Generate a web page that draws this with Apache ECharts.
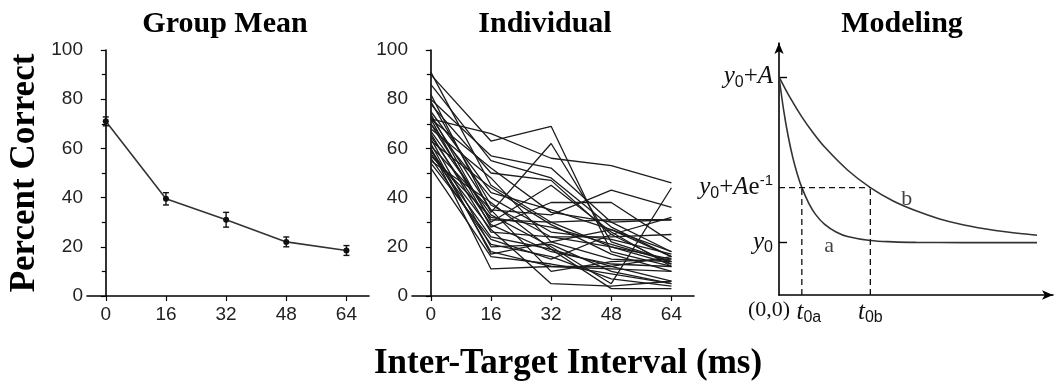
<!DOCTYPE html>
<html>
<head>
<meta charset="utf-8">
<script src="https://cdn.jsdelivr.net/npm/echarts@6/dist/echarts.min.js"></script>
<style>
html,body{margin:0;padding:0;background:#fff;}
#chart{width:1054px;height:383px;}
</style>
</head>
<body>
<div id="chart"></div>
<script>
// ---------- data ----------
var intervals = [0, 16, 32, 48, 64];
var yTicks = [0, 20, 40, 60, 80, 100];

var groupMean = [71, 39.5, 31, 22, 18.5];
var groupSE = [1.8, 2.5, 3, 2, 2];

var individual = [
  [90, 63, 69, 18, 12],
  [91, 45, 30, 20, 15],
  [86, 55, 48, 28, 16],
  [82, 34, 62, 22, 14],
  [80, 57, 52, 30, 18],
  [78, 50, 47, 25, 13],
  [72, 66, 56, 53, 46],
  [75, 42, 35, 27, 16],
  [74, 30, 45, 26, 12],
  [73, 35, 33, 43, 36],
  [72, 28, 38, 38, 22],
  [72, 52, 34, 30, 31],
  [70, 40, 26, 23, 17],
  [70, 31, 30, 31, 31],
  [68, 48, 22, 15, 14],
  [67, 33, 20, 5, 44],
  [66, 26, 24, 24, 25],
  [65, 29, 18, 13, 12],
  [64, 20, 21, 10, 5],
  [62, 17, 22, 27, 18],
  [61, 35, 10, 14, 15],
  [60, 18, 12, 11, 10],
  [60, 11, 12, 12, 6],
  [59, 27, 5, 4, 6],
  [58, 24, 19, 3, 3],
  [57, 32, 28, 21, 14],
  [56, 21, 16, 7, 4],
  [55, 38, 19, 12, 16],
  [54, 23, 15, 25, 32],
  [52, 16, 13, 9, 5],
  [63, 44, 29, 17, 10],
  [79, 37, 24, 20, 13]
];

// Modeling panel (schematic curves)
var curveAx = [0, 2, 4, 6, 8, 10, 13, 16, 20, 25, 30, 40, 50, 60, 80, 113];
var curveAy = [86.6, 73.6, 63.1, 54.7, 48.0, 42.6, 36.5, 32.0, 28.0, 25.0, 23.2, 21.6, 21.1, 20.9, 20.8, 20.8];
var curveBx = [0, 5, 10, 15, 20, 30, 40, 50, 60, 70, 80, 90, 100, 113];
var curveBy = [86.6, 78.1, 70.7, 64.3, 58.7, 49.6, 42.6, 37.3, 33.4, 30.3, 28.0, 26.3, 25.0, 23.7];
var modelY0 = 20.8;
var modelYA = 86.6;
var modelYTau = 42.6;
var modelT0a = 10;
var modelT0b = 40;
var modelYTickValues = [20.8, 42.6, 86.6];
var modelYTickLabels = ['{i|y}{s|0}', '{i|y}{s|0}{n|+}{i|A}{n|e}{sup|-1}', '{i|y}{s|0}{n|+}{i|A}'];
var modelXTickValues = [0, 10, 40];
var modelXTickLabels = ['{o|(0,0)}', '{ia|t}{s|0a}', '{i|t}{s|0b}'];
var curveLabels = [{x: 22, y: 19.5, text: 'a'}, {x: 56, y: 38, text: 'b'}];

// ---------- chart ----------
var chart = echarts.init(document.getElementById('chart'), null, {renderer: 'canvas'});

var tickFont = {fontFamily: 'Liberation Sans, Arial, sans-serif', fontSize: 19, color: '#222'};
var axisLineStyle = {color: '#000', width: 1.6};

function dataAxisX(idx) {
  return {
    type: 'value', gridIndex: idx, min: -5, max: 70,
    axisLine: {show: true, onZero: false, lineStyle: axisLineStyle},
    axisTick: {show: true, length: 5, customValues: intervals, lineStyle: {color: '#000', width: 1.2}},
    axisLabel: Object.assign({customValues: intervals, margin: 9}, tickFont),
    splitLine: {show: false}
  };
}
function dataAxisY(idx) {
  return {
    type: 'value', gridIndex: idx, min: 0, max: 100, interval: 20,
    axisLine: {show: true, lineStyle: axisLineStyle},
    axisTick: {show: true, length: 5, lineStyle: {color: '#000', width: 1.2}},
    minorTick: {show: true, splitNumber: 2, length: 4, lineStyle: {color: '#000', width: 1.2}},
    axisLabel: Object.assign({margin: 4, formatter: function (v) { return yTicks.indexOf(v) >= 0 ? String(v) : ''; }}, tickFont),
    splitLine: {show: false}
  };
}

var richMath = {
  i: {fontFamily: 'Liberation Serif, serif', fontStyle: 'italic', fontSize: 25, color: '#111'},
  ia: {fontFamily: 'Liberation Serif, serif', fontStyle: 'italic', fontSize: 25, color: '#111', padding: [0, 0, 0, 14]},
  n: {fontFamily: 'Liberation Serif, serif', fontSize: 25, color: '#111'},
  s: {fontFamily: 'Liberation Sans, sans-serif', fontSize: 16, color: '#111', padding: [11, 0, 0, 0]},
  sup: {fontFamily: 'Liberation Sans, sans-serif', fontSize: 15, color: '#111', padding: [0, 0, 13, 0]},
  o: {fontFamily: 'Liberation Serif, serif', fontSize: 22, color: '#111', padding: [0, 20, 0, 0]}
};

var series = [];

// Group mean line
series.push({
  type: 'line', xAxisIndex: 0, yAxisIndex: 0,
  data: intervals.map(function (x, i) { return [x, groupMean[i]]; }),
  symbol: 'circle', symbolSize: 6,
  itemStyle: {color: '#111'},
  lineStyle: {color: '#333', width: 1.6},
  z: 3
});
// Error bars
series.push({
  type: 'custom', xAxisIndex: 0, yAxisIndex: 0,
  data: intervals.map(function (x, i) { return [x, groupMean[i] - groupSE[i], groupMean[i] + groupSE[i]]; }),
  renderItem: function (params, api) {
    var lo = api.coord([api.value(0), api.value(1)]);
    var hi = api.coord([api.value(0), api.value(2)]);
    var w = 3;
    var st = {stroke: '#111', lineWidth: 1.4};
    return {type: 'group', children: [
      {type: 'line', shape: {x1: lo[0], y1: lo[1], x2: hi[0], y2: hi[1]}, style: st},
      {type: 'line', shape: {x1: lo[0] - w, y1: lo[1], x2: lo[0] + w, y2: lo[1]}, style: st},
      {type: 'line', shape: {x1: hi[0] - w, y1: hi[1], x2: hi[0] + w, y2: hi[1]}, style: st}
    ]};
  },
  z: 4
});

// Individual lines
individual.forEach(function (row) {
  series.push({
    type: 'line', xAxisIndex: 1, yAxisIndex: 1,
    data: intervals.map(function (x, i) { return [x, row[i]]; }),
    symbol: 'none', silent: true,
    lineStyle: {color: '#1c1c1c', width: 1.3}
  });
});

// Modeling curves
series.push({
  type: 'line', xAxisIndex: 2, yAxisIndex: 2, smooth: 0.35, symbol: 'none',
  data: curveAx.map(function (x, i) { return [x, curveAy[i]]; }),
  lineStyle: {color: '#333', width: 1.6}
});
series.push({
  type: 'line', xAxisIndex: 2, yAxisIndex: 2, smooth: 0.35, symbol: 'none',
  data: curveBx.map(function (x, i) { return [x, curveBy[i]]; }),
  lineStyle: {color: '#333', width: 1.6}
});
// dashed guides
var dashStyle = {color: '#111', width: 1.3, type: [6, 4]};
[
  [[0, modelYTau], [modelT0b, modelYTau]],
  [[modelT0a, 0], [modelT0a, modelYTau]],
  [[modelT0b, 0], [modelT0b, modelYTau]]
].forEach(function (seg) {
  series.push({type: 'line', xAxisIndex: 2, yAxisIndex: 2, symbol: 'none', data: seg, lineStyle: dashStyle});
});
// curve labels
series.push({
  type: 'scatter', xAxisIndex: 2, yAxisIndex: 2, symbolSize: 0,
  data: curveLabels.map(function (d) { return {value: [d.x, d.y], name: d.text}; }),
  label: {show: true, position: 'inside', formatter: '{b}', fontFamily: 'Liberation Serif, serif', fontSize: 22, color: '#111'}
});

var titleStyle = {fontFamily: 'Liberation Serif, serif', fontWeight: 'bold', fontSize: 30, color: '#000'};
var option = {
  backgroundColor: '#fff',
  animation: false,
  title: [
    {text: 'Group Mean', left: 220, top: 4, textAlign: 'center', textStyle: titleStyle},
    {text: 'Individual', left: 540, top: 4, textAlign: 'center', textStyle: titleStyle},
    {text: 'Modeling', left: 897, top: 4, textAlign: 'center', textStyle: titleStyle},
    {text: 'Inter-Target Interval (ms)', left: 563, top: 341, textAlign: 'center', textStyle: {fontFamily: 'Liberation Serif, serif', fontWeight: 'bold', fontSize: 35, color: '#000'}}
  ],
  grid: [
    {left: 87, top: 50, width: 282, height: 246},
    {left: 412, top: 50, width: 282, height: 246},
    {left: 779, top: 43, width: 274, height: 252}
  ],
  xAxis: [
    dataAxisX(0),
    dataAxisX(1),
    {
      type: 'value', gridIndex: 2, min: 0, max: 120,
      axisLine: {show: true, onZero: false, lineStyle: axisLineStyle, symbol: ['none', 'arrow'], symbolSize: [7, 11]},
      axisTick: {show: false},
      axisLabel: {customValues: modelXTickValues, margin: 4, rich: richMath,
        formatter: function (v) { var k = modelXTickValues.indexOf(v); return k >= 0 ? modelXTickLabels[k] : ''; }},
      splitLine: {show: false}
    }
  ],
  yAxis: [
    Object.assign(dataAxisY(0), {name: 'Percent Correct', nameLocation: 'middle', nameRotate: 90, nameGap: 45,
      nameTextStyle: {fontFamily: 'Liberation Serif, serif', fontWeight: 'bold', fontSize: 35, color: '#000'}}),
    dataAxisY(1),
    {
      type: 'value', gridIndex: 2, min: 0, max: 100,
      axisLine: {show: true, lineStyle: axisLineStyle, symbol: ['none', 'arrow'], symbolSize: [7, 11]},
      axisTick: {show: true, inside: true, length: 8, customValues: [modelY0, modelYA], lineStyle: {color: '#000', width: 1.4}},
      axisLabel: {customValues: modelYTickValues, margin: 6, rich: richMath,
        formatter: function (v) { var k = modelYTickValues.indexOf(v); return k >= 0 ? modelYTickLabels[k] : ''; }},
      splitLine: {show: false}
    }
  ],
  series: series
};
chart.setOption(option);
</script>
</body>
</html>
